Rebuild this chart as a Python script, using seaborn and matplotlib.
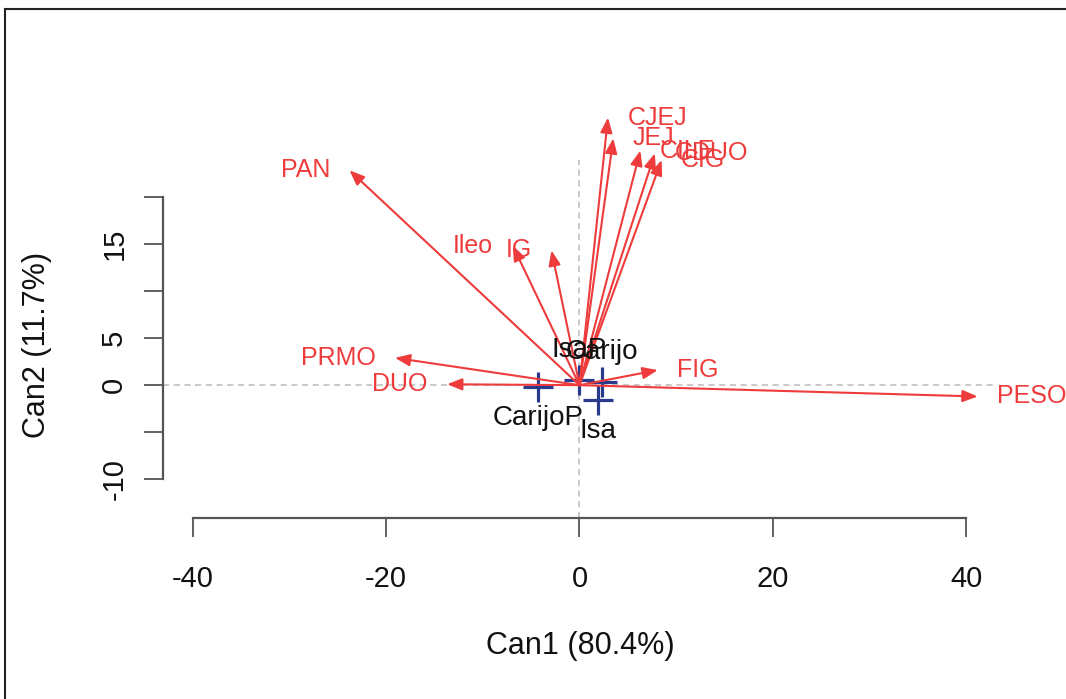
import matplotlib
matplotlib.use("Agg")
import matplotlib.pyplot as plt
import seaborn as sns
import pandas as pd
from matplotlib.patches import Rectangle

# structure coefficients (variable vectors) on the two canonical dimensions
variables = ["PAN", "Ileo", "IG", "CJEJ", "JEJ", "CILE", "CDUO", "CIG",
             "PRMO", "DUO", "FIG", "PESO"]
can1_load = [-23.8, -6.9, -2.9, 2.95, 3.5, 6.3, 7.8, 8.5, -19.1, -13.7, 8.1, 41.2]
can2_load = [22.8, 14.8, 14.3, 28.4, 26.2, 24.9, 24.6, 23.9, 2.9, 0.1, 1.6, -1.2]

# group means on the canonical dimensions
groups = ["CarijoP", "IsaP", "Carijo", "Isa"]
can1_mean = [-4.3, 0.0, 2.3, 1.9]
can2_mean = [-0.2, 0.5, 0.3, -1.6]

x_ticks = [-40, -20, 0, 20, 40]
y_ticks = [-10, -5, 0, 5, 10, 15, 20]
y_tick_labels = ["-10", "", "0", "5", "", "15", ""]

RED = "#EE3B3B"
BLUE = "#2A3A8C"
AXIS = "#555555"

sns.set_style("ticks")
plt.rcParams["font.family"] = ["Liberation Sans", "DejaVu Sans"]

fig = plt.figure(figsize=(10.66, 6.99), dpi=100)
ax = fig.add_axes([0.1529, 0.2589, 0.7805, 0.5122])
ax.set_xlim(-43.1, 43.0)
ax.set_ylim(-14.1, 23.9)

# reference lines
ax.axhline(0, color="#BBBBBB", ls=(0, (4, 3)), lw=1.1, zorder=1)
ax.axvline(0, color="#BBBBBB", ls=(0, (4, 3)), lw=1.1, zorder=1)

# group means
means = pd.DataFrame({"Can1": can1_mean, "Can2": can2_mean, "group": groups})
sns.scatterplot(data=means, x="Can1", y="Can2", marker="+", s=480,
                color=BLUE, linewidth=2.3, ax=ax, zorder=2, clip_on=False)

# variable vectors
for name, vx, vy in zip(variables, can1_load, can2_load):
    ax.annotate("", xy=(vx, vy), xytext=(0, 0),
                arrowprops=dict(arrowstyle="-|>,head_length=0.45,head_width=0.18",
                                color=RED, lw=1.5, shrinkA=0, shrinkB=0,
                                mutation_scale=20),
                annotation_clip=False, zorder=3)
    right = vx > 0
    ax.annotate(name, xy=(vx, vy), xytext=(14 if right else -14, 0),
                textcoords="offset points", ha="left" if right else "right",
                va="center", color=RED, fontsize=18, annotation_clip=False,
                zorder=4)

# group labels
for name, mx, my in zip(groups, can1_mean, can2_mean):
    above = my > 0
    ax.annotate(name, xy=(mx, my), xytext=(0, 22 if above else -22),
                textcoords="offset points", ha="center", va="center",
                color="#111111", fontsize=20, annotation_clip=False, zorder=5)

# R style axes
for side in ["top", "right"]:
    ax.spines[side].set_visible(False)
ax.spines["left"].set_bounds(-10, 20)
ax.spines["bottom"].set_bounds(-40, 40)
for side in ["left", "bottom"]:
    ax.spines[side].set_color(AXIS)
    ax.spines[side].set_linewidth(1.6)

ax.set_xticks(x_ticks)
ax.set_xticklabels([str(t) for t in x_ticks])
ax.set_yticks(y_ticks)
ax.set_yticklabels(y_tick_labels, rotation=90, va="center")
ax.tick_params(axis="x", bottom=True, direction="out", length=14, width=1.3,
               color=AXIS, pad=20, labelsize=21, labelcolor="#111111")
ax.tick_params(axis="y", left=True, direction="out", length=14, width=1.3,
               color=AXIS, pad=11, labelsize=21, labelcolor="#111111")
for lab in ax.get_xticklabels() + ax.get_yticklabels():
    lab.set_family(["Liberation Sans Narrow", "Liberation Sans"])

ax.set_xlabel("Can1 (80.4%)", fontsize=22, color="#111111")
ax.set_ylabel("Can2 (11.7%)", fontsize=22, color="#111111")
ax.xaxis.label.set_va("center")
ax.yaxis.label.set_va("center")
ax.xaxis.set_label_coords(0.502, -0.358)
ax.yaxis.set_label_coords(-0.1514, 0.483)

# outer frame (only top and left edges visible)
fig.patches.append(Rectangle((5 / 1066, -0.1), 1.2, 1.1 - 9 / 699,
                             transform=fig.transFigure, fill=False,
                             edgecolor="#222222", lw=1.5))

fig.savefig("out.png", dpi=100)
